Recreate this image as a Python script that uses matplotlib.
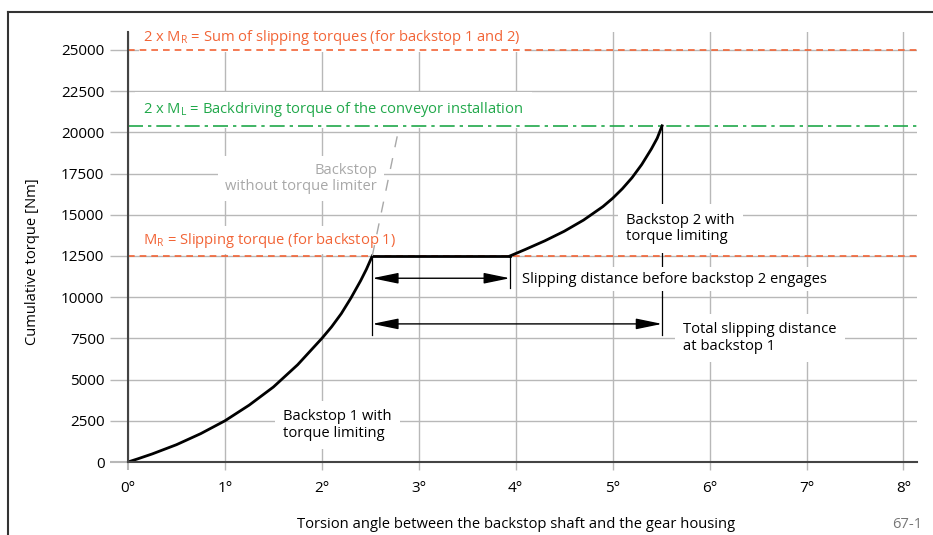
import matplotlib
matplotlib.use("Agg")
import matplotlib.pyplot as plt
from matplotlib.lines import Line2D

plt.rcParams['font.family'] = ['Open Sans', 'DejaVu Sans']
plt.rcParams['mathtext.fontset'] = 'custom'
plt.rcParams['mathtext.rm'] = 'Open Sans'

# ---- data ----
curve1_x = [0, 0.1, 0.25, 0.5, 0.75, 1.0, 1.25, 1.5, 1.75, 2.0, 2.1, 2.2, 2.3, 2.4, 2.46, 2.52]
curve1_y = [0, 190, 490, 1050, 1720, 2500, 3450, 4550, 5900, 7500, 8200, 9000, 9950, 11000, 11700, 12500]
plateau_x = [2.52, 3.94]
plateau_y = [12500, 12500]
curve2_x = [3.94, 4.1, 4.3, 4.5, 4.7, 4.9, 5.0, 5.1, 5.2, 5.3, 5.4, 5.46, 5.51]
curve2_y = [12500, 12900, 13420, 14000, 14680, 15500, 16000, 16580, 17250, 18050, 19000, 19650, 20400]
nolimiter_x = [2.52, 2.80]
nolimiter_y = [12500, 20400]
MR = 12500
MR2 = 25000
ML2 = 20400
slip1 = (2.52, 3.94)
slip_total = (2.52, 5.51)
x_ticks = [0, 1, 2, 3, 4, 5, 6, 7, 8]
x_tick_labels = ["0°", "1°", "2°", "3°", "4°", "5°", "6°", "7°", "8°"]
y_ticks = [0, 2500, 5000, 7500, 10000, 12500, 15000, 17500, 20000, 22500, 25000]
y_tick_labels = ["0", "2500", "5000", "7500", "10000", "12500", "15000", "17500", "20000", "22500", "25000"]

RED = "#f26436"
GREEN = "#20a84a"
GRID = "#b8b8b8"
AX = "#444444"
FS = 10.6
TFS = 11

fig = plt.figure(figsize=(9.33, 5.35), dpi=100)
ax = fig.add_axes([128/933, (535-462)/535, (917-128)/933, (462-32)/535])
ax.set_xlim(0, 8.14)
ax.set_ylim(0, 26092)

for s in ['top', 'right']:
    ax.spines[s].set_visible(False)
for s in ['left', 'bottom']:
    ax.spines[s].set_color(AX)
    ax.spines[s].set_linewidth(1.5)
    ax.spines[s].set_zorder(6)

ax.set_xticks(x_ticks)
ax.set_xticklabels(x_tick_labels, fontsize=TFS)
ax.set_yticks(y_ticks)
ax.set_yticklabels(y_tick_labels, fontsize=TFS)
ax.tick_params(axis='y', length=13, width=1.0, color=GRID, pad=4)
ax.tick_params(axis='x', length=6, width=1.0, color=GRID, pad=8)
ax.yaxis.get_major_ticks()[0].tick1line.set_color(AX)
ax.yaxis.get_major_ticks()[0].tick1line.set_markeredgewidth(1.5)
ax.xaxis.get_major_ticks()[0].tick1line.set_color(AX)
ax.xaxis.get_major_ticks()[0].tick1line.set_markeredgewidth(1.5)
ax.grid(True, color=GRID, lw=1.0, zorder=0)
ax.set_axisbelow(True)

# reference lines
ax.axhline(MR2, color=RED, lw=1.2, ls=(0, (4, 3)), zorder=4)
ax.axhline(MR, color=RED, lw=1.2, ls=(0, (4, 3)), zorder=4)
ax.axhline(ML2, color=GREEN, lw=1.2, ls=(0, (9, 3, 2, 3)), zorder=4)

# curves
ax.plot(curve1_x, curve1_y, color='black', lw=2.0, zorder=5, solid_joinstyle='round')
ax.plot(plateau_x, plateau_y, color='black', lw=2.0, zorder=5)
ax.plot(curve2_x, curve2_y, color='black', lw=2.0, zorder=5, solid_joinstyle='round')
ax.plot(nolimiter_x, nolimiter_y, color='#a8a8a8', lw=1.0, ls=(0, (8, 8)), zorder=5)

# marker vertical lines
ax.plot([slip1[0], slip1[0]], [MR, 7700], color='black', lw=0.9, zorder=2)
ax.plot([slip1[1], slip1[1]], [MR, 10550], color='black', lw=0.9, zorder=2)
ax.plot([slip_total[1], slip_total[1]], [ML2, 7700], color='black', lw=0.9, zorder=2)

ap = dict(arrowstyle='<|-|>,head_length=1.6,head_width=0.33', mutation_scale=10,
          lw=1.0, color='black', shrinkA=0, shrinkB=0)
ax.annotate('', xy=(slip1[1], 11150), xytext=(slip1[0], 11150), arrowprops=ap, zorder=5)
ax.annotate('', xy=(slip_total[1], 8380), xytext=(slip_total[0], 8380), arrowprops=ap, zorder=5)

bb = dict(facecolor='white', edgecolor='none', pad=3)

ax.text(0.155, 25730, r"2 x M$_\mathrm{R}$ = Sum of slipping torques (for backstop 1 and 2)",
        color=RED, fontsize=FS, va='center', ha='left', bbox=bb, zorder=3)
ax.text(0.155, 21380, r"2 x M$_\mathrm{L}$ = Backdriving torque of the conveyor installation",
        color=GREEN, fontsize=FS, va='center', ha='left',
        bbox=dict(facecolor='white', edgecolor='none', pad=6), zorder=3)
ax.text(0.155, 13470, r"M$_\mathrm{R}$ = Slipping torque (for backstop 1)",
        color=RED, fontsize=FS, va='center', ha='left', bbox=bb, zorder=3)
ax.text(2.57, 17200, "Backstop\nwithout torque limiter", color='#a8a8a8', fontsize=FS,
        va='center', ha='right', multialignment='right', linespacing=1.15,
        bbox=dict(facecolor='white', edgecolor='none', pad=5), zorder=3)
ax.text(5.14, 14170, "Backstop 2 with\ntorque limiting", color='black', fontsize=FS,
        va='center', ha='left', linespacing=1.15,
        bbox=dict(facecolor='white', edgecolor='none', pad=6), zorder=3)
ax.text(4.07, 11100, "Slipping distance before backstop 2 engages", color='black', fontsize=FS,
        va='center', ha='left', bbox=bb, zorder=3)
ax.text(5.73, 7520, "Total slipping distance\nat backstop 1", color='black', fontsize=FS,
        va='center', ha='left', linespacing=1.15,
        bbox=dict(facecolor='white', edgecolor='none', pad=6), zorder=3)
ax.text(1.60, 2245, "Backstop 1 with\ntorque limiting", color='black', fontsize=FS,
        va='center', ha='left', linespacing=1.15,
        bbox=dict(facecolor='white', edgecolor='none', pad=6), zorder=3)

# axis labels
fig.text(516/933, 1 - 524/535, "Torsion angle between the backstop shaft and the gear housing",
         fontsize=FS, ha='center', va='center')
fig.text(33/933, 1 - 262/535, "Cumulative torque [Nm]", fontsize=FS, ha='center', va='center',
         rotation=90)
fig.text(907/933, 1 - 524/535, "67-1", fontsize=FS, ha='center', va='center', color='#777777')

# outer frame
fig.add_artist(Line2D([8/933, 1.0], [1 - 12/535, 1 - 12/535], transform=fig.transFigure,
                      color='#333333', lw=1.5))
fig.add_artist(Line2D([8/933, 8/933], [0, 1 - 12/535], transform=fig.transFigure,
                      color='#333333', lw=1.5))

fig.savefig("out.png", dpi=100)
